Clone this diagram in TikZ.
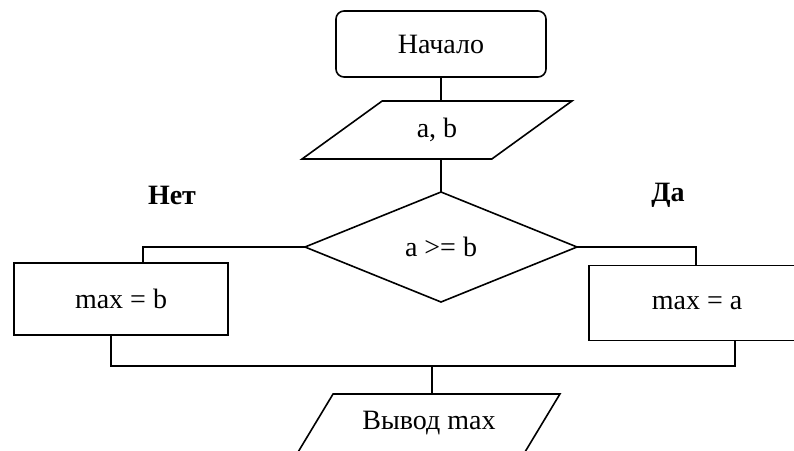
\documentclass[tikz,border=0pt]{standalone}
\usepackage{fontspec}
\setmainfont{Liberation Serif}
\usetikzlibrary{shapes.geometric}

\tikzset{
  flow/.style={draw=black, line width=1.6pt, inner sep=2pt, outer sep=0pt,
    font=\fontsize{28}{32}\selectfont},
  terminal/.style={flow, rectangle, rounded corners=8pt},
  io/.style={flow, trapezium, trapezium stretches=true},
  decision/.style={flow, diamond},
  process/.style={flow, rectangle},
  branchlabel/.style={font=\fontsize{28}{32}\selectfont\bfseries},
  link/.style={line width=1.6pt, line cap=rect}
}

\begin{document}
\begin{tikzpicture}[x=1pt, y=-1pt]
  \useasboundingbox (0,0) rectangle (794,450);
  \clip (0,0) rectangle (794,450);

  % blocks
  \node[terminal, minimum width=210pt, minimum height=66pt] (start) at (441,44) {Начало};
  \node[io, minimum width=270pt, minimum height=58pt,
        trapezium left angle=40.5, trapezium right angle=139.5] (input) at (437,130) {a, b};
  \node[decision, minimum width=272pt, minimum height=110pt] (cond) at (441,247) {a >= b};
  \node[process, minimum width=214pt, minimum height=72pt] (setb) at (121,299) {max = b};
  \node[process, minimum width=216pt, minimum height=75pt] (seta) at (697,303) {max = a};
  \node[io, minimum width=262pt, minimum height=58pt,
        trapezium left angle=48, trapezium right angle=132] (output) at (429,423) {Вывод max};

  % branch labels
  \node[branchlabel] (no) at (172,195) {Нет};
  \node[branchlabel] (yes) at (668,195) {Да};

  % connectors
  \coordinate (merge) at (432,366);
  \draw[link] (start.south) -- (start.south |- input.north);
  \draw[link] ([xshift=4pt]input.south) -- ([xshift=4pt]input.south |- cond.north);
  \draw[link] (cond.west) -| ([xshift=22pt]setb.north);
  \draw[link] (cond.east) -| ([xshift=-1pt]seta.north);
  \draw[link] ([xshift=-10pt]setb.south) |- (merge) -| ([xshift=38pt]seta.south);
  \draw[link] (merge) -- (merge |- output.north);
\end{tikzpicture}
\end{document}
